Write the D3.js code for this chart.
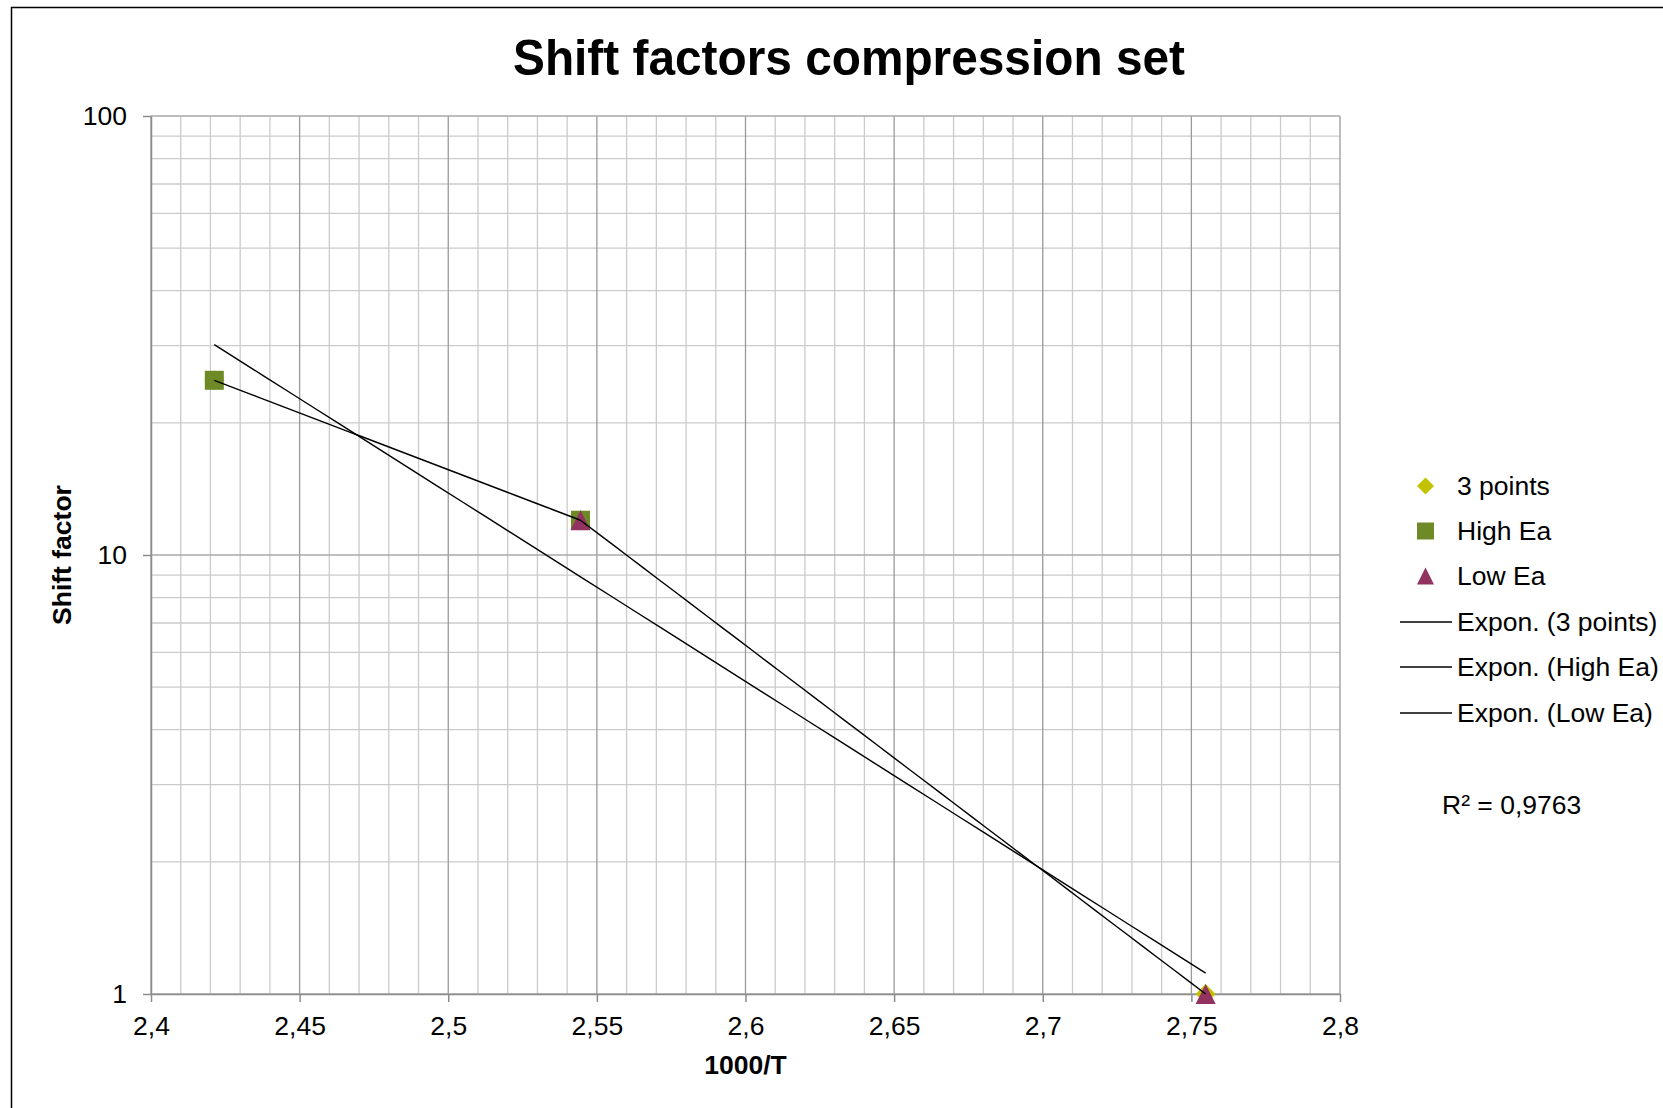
<!DOCTYPE html>
<html>
<head>
<meta charset="utf-8">
<script src="https://cdn.jsdelivr.net/npm/d3@7"></script>
<style>
  html, body { margin: 0; padding: 0; background: #fff; }
  svg { display: block; }
  text { font-family: "Liberation Sans", Arial, sans-serif; fill: #000; }
</style>
</head>
<body>
<svg id="chart" width="1663" height="1108"></svg>
<script>
// Reciprocal temperature (1000/T) of each measurement
const invTemp = [2.4213, 2.5445, 2.7548];
// Shift factor per series, aligned with invTemp (null = not in that series)
const threePoints = [25, 12, 1];
const highEa = [25, 12, null];
const lowEa = [null, 12, 1];

const seriesNames = ["3 points", "High Ea", "Low Ea"];
const trendNames = ["Expon. (3 points)", "Expon. (High Ea)", "Expon. (Low Ea)"];
const rSquaredLabel = "R² = 0,9763";

const xTickValues = [2.4, 2.45, 2.5, 2.55, 2.6, 2.65, 2.7, 2.75, 2.8];
const xTickLabels = ["2,4", "2,45", "2,5", "2,55", "2,6", "2,65", "2,7", "2,75", "2,8"];
const yTickValues = [1, 10, 100];
const yTickLabels = ["1", "10", "100"];
const yMinorValues = [2, 3, 4, 5, 6, 7, 8, 9, 20, 30, 40, 50, 60, 70, 80, 90];

const chartTitle = "Shift factors compression set";
const xTitle = "1000/T";
const yTitle = "Shift factor";

const colors = { three: "#C2C200", high: "#6E8A27", low: "#923260" };
const fontSize = 26.5;

const svg = d3.select("#chart");
const plot = { left: 151, top: 116, right: 1340, bottom: 994 };

const x = d3.scaleLinear().domain([2.4, 2.8]).range([plot.left, plot.right]);
const y = d3.scaleLog().domain([1, 100]).range([plot.bottom, plot.top]);

// Chart area outline
svg.append("rect")
  .attr("x", 11.5).attr("y", 7.5)
  .attr("width", 1700).attr("height", 1200)
  .attr("fill", "none").attr("stroke", "#000").attr("stroke-width", 1.5);

// Title
svg.append("text")
  .attr("x", 849).attr("y", 75)
  .attr("text-anchor", "middle")
  .attr("font-size", 50).attr("font-weight", "bold")
  .attr("textLength", 672).attr("lengthAdjust", "spacingAndGlyphs")
  .text(chartTitle);

// Grid: minor lines first, then major
const grid = svg.append("g");
const xMinor = d3.range(0, 41).map(i => +(2.4 + i * 0.01).toFixed(2))
  .filter(v => !xTickValues.some(t => Math.abs(t - v) < 1e-9));
grid.selectAll(".vminor").data(xMinor).join("line")
  .attr("x1", d => x(d)).attr("x2", d => x(d))
  .attr("y1", plot.top).attr("y2", plot.bottom)
  .attr("stroke", "#cbcbcb").attr("stroke-width", 1.3);
grid.selectAll(".hminor").data(yMinorValues).join("line")
  .attr("x1", plot.left).attr("x2", plot.right)
  .attr("y1", d => y(d)).attr("y2", d => y(d))
  .attr("stroke", "#cbcbcb").attr("stroke-width", 1.3);
grid.selectAll(".vmajor").data(xTickValues).join("line")
  .attr("x1", d => x(d)).attr("x2", d => x(d))
  .attr("y1", plot.top).attr("y2", plot.bottom)
  .attr("stroke", "#9a9a9a").attr("stroke-width", 1.3);
grid.selectAll(".hmajor").data(yTickValues).join("line")
  .attr("x1", plot.left).attr("x2", plot.right)
  .attr("y1", d => y(d)).attr("y2", d => y(d))
  .attr("stroke", "#a8a8a8").attr("stroke-width", 1.3);

// Axes
const xAxis = d3.axisBottom(x)
  .tickValues(xTickValues)
  .tickFormat((d, i) => xTickLabels[i])
  .tickSize(8).tickPadding(14.5).tickSizeOuter(0);
const gx = svg.append("g").attr("transform", `translate(0,${plot.bottom})`).call(xAxis);
const yAxis = d3.axisLeft(y)
  .tickValues(yTickValues)
  .tickFormat((d, i) => yTickLabels[i])
  .tickSize(8).tickPadding(16).tickSizeOuter(0);
const gy = svg.append("g").attr("transform", `translate(${plot.left},0)`).call(yAxis);
[gx, gy].forEach(g => {
  g.select(".domain").attr("stroke", "#8c8c8c").attr("stroke-width", 1.5);
  g.selectAll(".tick line").attr("stroke", "#8c8c8c").attr("stroke-width", 1.5);
  g.selectAll(".tick text")
    .attr("font-family", "'Liberation Sans', Arial, sans-serif")
    .attr("font-size", fontSize).attr("fill", "#000");
});

// Axis titles
svg.append("text")
  .attr("x", (plot.left + plot.right) / 2).attr("y", 1074)
  .attr("text-anchor", "middle")
  .attr("font-size", fontSize).attr("font-weight", "bold")
  .text(xTitle);
svg.append("text")
  .attr("transform", `translate(71,${(plot.top + plot.bottom) / 2}) rotate(-90)`)
  .attr("text-anchor", "middle")
  .attr("font-size", fontSize).attr("font-weight", "bold")
  .text(yTitle);

// Marker shapes, all sized by their bounding box edge
const boxSymbol = kind => ({
  draw(ctx, size) {
    const h = Math.sqrt(size) / 2;
    if (kind === "diamond") {
      ctx.moveTo(0, -h); ctx.lineTo(h, 0); ctx.lineTo(0, h); ctx.lineTo(-h, 0); ctx.closePath();
    } else if (kind === "square") {
      ctx.moveTo(-h, -h); ctx.lineTo(h, -h); ctx.lineTo(h, h); ctx.lineTo(-h, h); ctx.closePath();
    } else {
      ctx.moveTo(0, -h); ctx.lineTo(h, h); ctx.lineTo(-h, h); ctx.closePath();
    }
  }
});

const series = [
  { name: seriesNames[0], values: threePoints, shape: "diamond", color: colors.three, box: 20 },
  { name: seriesNames[1], values: highEa, shape: "square", color: colors.high, box: 19 },
  { name: seriesNames[2], values: lowEa, shape: "triangle", color: colors.low, box: 20 }
];

const markers = svg.append("g");
series.forEach(s => {
  const pts = invTemp.map((t, i) => ({ t, v: s.values[i] })).filter(p => p.v != null);
  markers.selectAll(null).data(pts).join("path")
    .attr("transform", p => `translate(${x(p.t)},${y(p.v)})`)
    .attr("d", d3.symbol(boxSymbol(s.shape), s.box * s.box))
    .attr("fill", s.color);
});

// Exponential trendlines: least squares fit of ln(value) against 1000/T
function expFit(xs, ys) {
  const lx = xs, ly = ys.map(Math.log);
  const mx = d3.mean(lx), my = d3.mean(ly);
  const b = d3.sum(lx, (v, i) => (v - mx) * (ly[i] - my)) / d3.sum(lx, v => (v - mx) * (v - mx));
  const a = my - b * mx;
  return t => Math.exp(a + b * t);
}
const line = d3.line().x(d => x(d[0])).y(d => y(d[1]));
const trends = svg.append("g");
series.forEach(s => {
  const pts = invTemp.map((t, i) => [t, s.values[i]]).filter(p => p[1] != null);
  const f = expFit(pts.map(p => p[0]), pts.map(p => p[1]));
  const [t0, t1] = d3.extent(pts, p => p[0]);
  const samples = d3.range(0, 41).map(i => t0 + (t1 - t0) * i / 40).map(t => [t, f(t)]);
  trends.append("path")
    .attr("d", line(samples))
    .attr("fill", "none").attr("stroke", "#000").attr("stroke-width", 1.4);
});

// Legend
const legend = svg.append("g");
const rowY = [486, 531, 576, 622, 667, 713];
series.forEach((s, i) => {
  legend.append("path")
    .attr("transform", `translate(1425.5,${rowY[i]})`)
    .attr("d", d3.symbol(boxSymbol(s.shape), 17 * 17))
    .attr("fill", s.color);
  legend.append("text")
    .attr("x", 1457).attr("y", rowY[i]).attr("dy", "0.35em")
    .attr("font-size", fontSize).text(s.name);
});
trendNames.forEach((n, i) => {
  const yy = rowY[3 + i];
  legend.append("line")
    .attr("x1", 1400).attr("x2", 1452).attr("y1", yy).attr("y2", yy)
    .attr("stroke", "#000").attr("stroke-width", 1.4);
  legend.append("text")
    .attr("x", 1457).attr("y", yy).attr("dy", "0.35em")
    .attr("font-size", fontSize).text(n);
});
legend.append("text")
  .attr("x", 1442).attr("y", 805).attr("dy", "0.35em")
  .attr("font-size", fontSize).text(rSquaredLabel);
</script>
</body>
</html>
